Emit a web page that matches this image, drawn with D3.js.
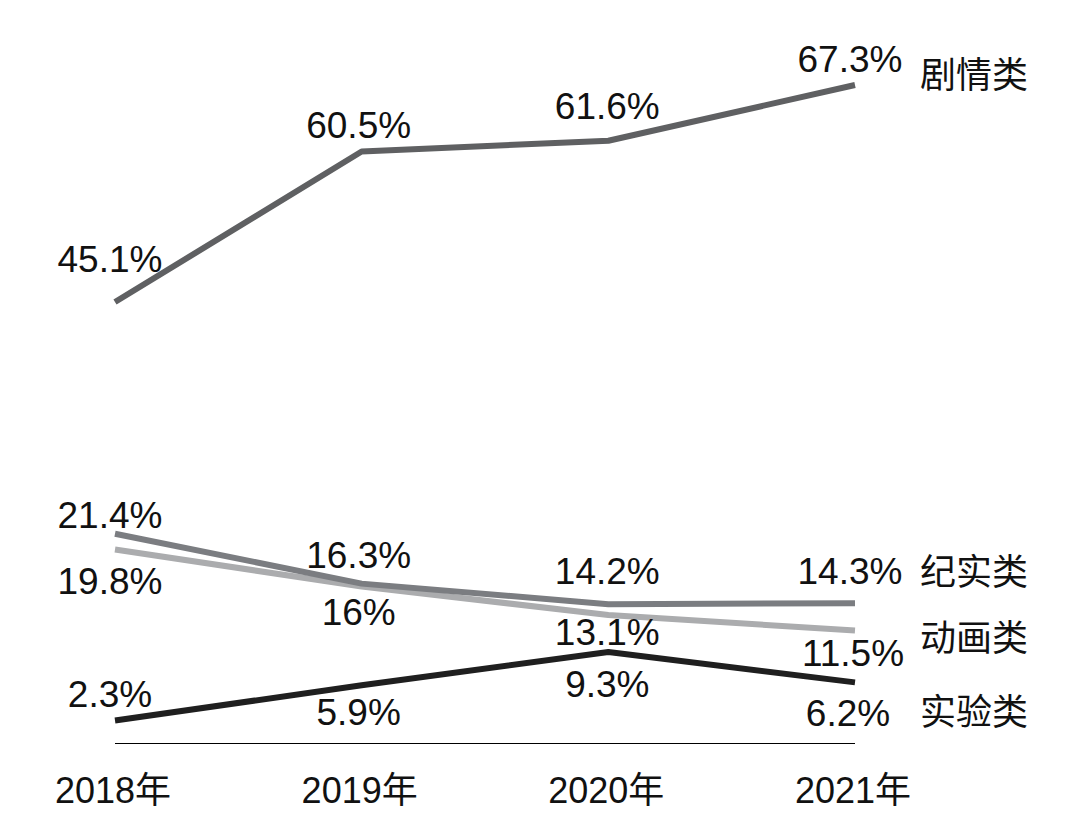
<!DOCTYPE html>
<html><head><meta charset="utf-8">
<script src="https://cdn.jsdelivr.net/npm/d3@7"></script>
<style>
html,body{margin:0;padding:0;background:#fff;}
svg{display:block;}
text{font-family:"Liberation Sans",Arial,Helvetica,"Noto Sans CJK SC",sans-serif;fill:#111;}
</style></head>
<body>
<script>
const years = ["2018年","2019年","2020年","2021年"];
const seriesNames = ["剧情类","纪实类","动画类","实验类"];
const drama = [45.1, 60.5, 61.6, 67.3];
const documentary = [21.4, 16.3, 14.2, 14.3];
const animation = [19.8, 16.0, 13.1, 11.5];
const experimental = [2.3, 5.9, 9.3, 6.2];
const valueLabels = [
  ["45.1%","60.5%","61.6%","67.3%"],
  ["21.4%","16.3%","14.2%","14.3%"],
  ["19.8%","16%","13.1%","11.5%"],
  ["2.3%","5.9%","9.3%","6.2%"]
];

// styling / layout (not data)
const colors = ["#5f6062","#7b7d81","#abacae","#1f1f1f"];
const labelDy = [
  [-30,-13,-22,-13],
  [-6,-16,-20,-19],
  [45,38,30,35],
  [-14,40,45,44]
];
const labelDx = [[-5,-3,-1,-5],[-5,-3,-1,-5],[-5,-3,-1,-2],[-5,-3,-1,-7]];
const nameDy = [3,-18,20,43];

const W=1080,H=839;
const svg=d3.select("body").append("svg").attr("width",W).attr("height",H);
const x=d3.scalePoint().domain(years).range([115,855]);
const y=d3.scaleLinear().domain([0,67.3]).range([743,85]);

const allSeries=[drama,documentary,animation,experimental];

svg.append("line").attr("x1",x(years[0])).attr("x2",x(years[3]))
  .attr("y1",y(0)+0.5).attr("y2",y(0)+0.5).attr("stroke","#000").attr("stroke-width",1);

const line=d3.line().x((d,i)=>x(years[i])).y(d=>y(d));
[2,1,3,0].forEach(s=>{
  svg.append("path").datum(allSeries[s]).attr("d",line)
    .attr("fill","none").attr("stroke",colors[s]).attr("stroke-width",6)
    .attr("stroke-linejoin","round");
});

allSeries.forEach((vals,s)=>{
  vals.forEach((v,i)=>{
    svg.append("text").attr("x",x(years[i])+labelDx[s][i]).attr("y",y(v)+labelDy[s][i])
      .attr("text-anchor","middle").attr("font-size",37).text(valueLabels[s][i]);
  });
  svg.append("text").attr("x",920).attr("y",y(vals[3])+nameDy[s])
    .attr("font-size",36).text(seriesNames[s]);
});

svg.append("g").selectAll("text").data(years).join("text")
  .attr("x",d=>x(d)-2).attr("y",803).attr("text-anchor","middle")
  .attr("font-size",36).text(d=>d);
</script>
</body></html>
